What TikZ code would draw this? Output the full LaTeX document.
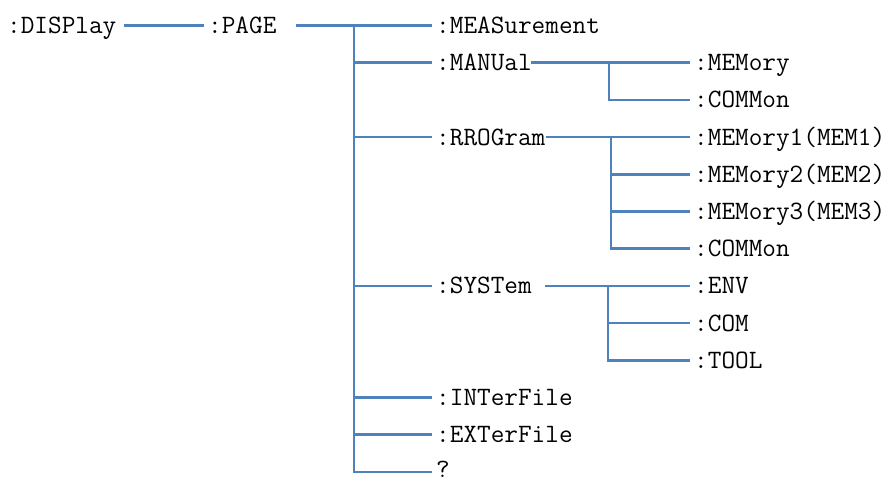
\documentclass[tikz,border=0pt]{standalone}
\usepackage{tikz}

\definecolor{wireblue}{RGB}{79,129,189}

\begin{document}
\begin{tikzpicture}[
    x=1pt, y=-37.2pt,
    cmd/.style={anchor=west, inner xsep=4pt, inner ysep=0pt, text height=16pt, text depth=0pt, font=\ttfamily\fontsize{26.5}{27}\selectfont},
    wire/.style={draw=wireblue, line width=2.5pt}
]
\useasboundingbox (0,-0.685) rectangle (888,12.218);

% root and page
\node[cmd] (disp) at (3,0) {:DISPlay};
\node[cmd] (page) at (204,0) {:PAGE};

% page subsystems
\node[cmd] (meas) at (432,0) {:MEASurement};
\node[cmd] (manu) at (432,1) {:MANUal};
\node[cmd] (prog) at (432,3) {:RROGram};
\node[cmd] (syst) at (432,7) {:SYSTem};
\node[cmd] (intf) at (432,10) {:INTerFile};
\node[cmd] (extf) at (432,11) {:EXTerFile};
\node[cmd, text height=11pt] (qry) at (432,12) {?};

% leaves
\node[cmd] (mmem) at (690,1) {:MEMory};
\node[cmd] (mcom) at (690,2) {:COMMon};
\node[cmd] (pm1) at (690,3) {:MEMory1(MEM1)};
\node[cmd] (pm2) at (690,4) {:MEMory2(MEM2)};
\node[cmd] (pm3) at (690,5) {:MEMory3(MEM3)};
\node[cmd] (pcom) at (690,6) {:COMMon};
\node[cmd] (senv) at (690,7) {:ENV};
\node[cmd] (scom) at (690,8) {:COM};
\node[cmd] (stool) at (690,9) {:TOOL};

% wires
\draw[wire] ([xshift=3pt]disp.east) -- (page.west);
\draw[wire] ([xshift=15pt]page.east) -- (meas.west);
\coordinate (pagebus) at (354,0);
\draw[wire] (pagebus) |- (qry.west);
\foreach \n in {manu,prog,syst,intf,extf}
    \draw[wire] (pagebus |- \n.west) -- (\n.west);

\draw[wire] ([xshift=-5pt]manu.east) -- (mmem.west);
\coordinate (manubus) at (609,1);
\draw[wire] (manubus) |- (mcom.west);

\draw[wire] ([xshift=-4pt]prog.east) -- (pm1.west);
\coordinate (progbus) at (611,3);
\draw[wire] (progbus) |- (pcom.west);
\foreach \n in {pm2,pm3}
    \draw[wire] (progbus |- \n.west) -- (\n.west);

\draw[wire] ([xshift=9pt]syst.east) -- (senv.west);
\coordinate (systbus) at (608,7);
\draw[wire] (systbus) |- (stool.west);
\draw[wire] (systbus |- scom.west) -- (scom.west);

\end{tikzpicture}
\end{document}
